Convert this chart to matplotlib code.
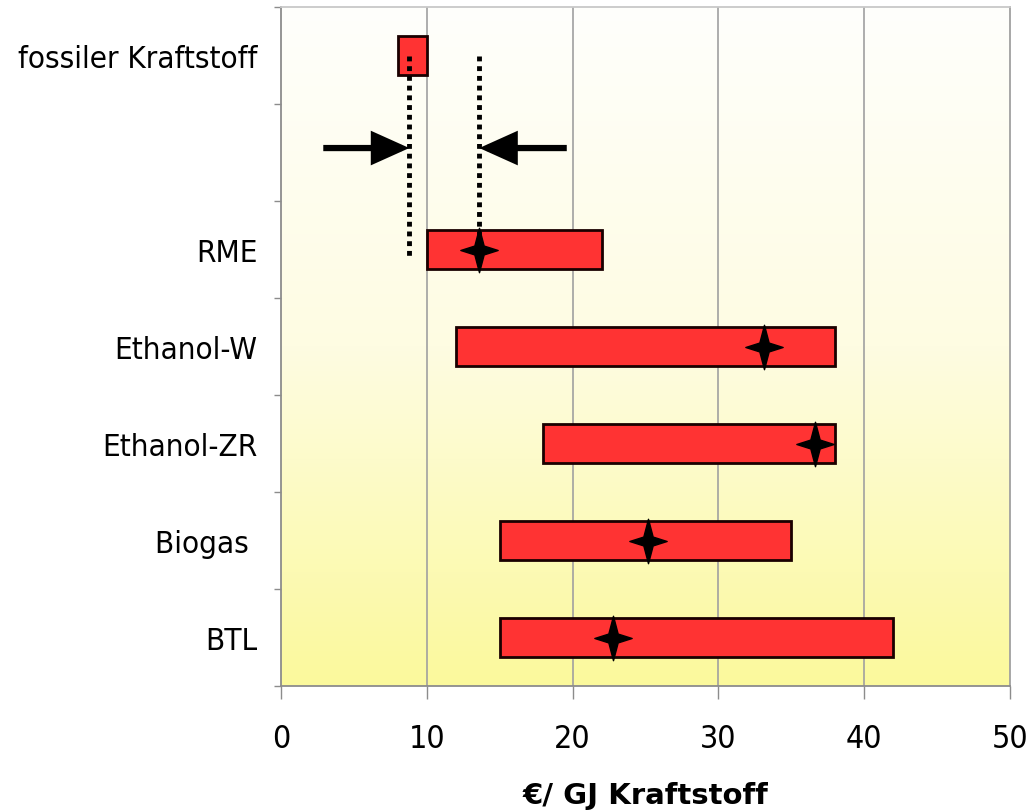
import numpy as np
import matplotlib
matplotlib.use("Agg")
import matplotlib.pyplot as plt
from matplotlib.path import Path
from matplotlib import font_manager as fm
from matplotlib.colors import LinearSegmentedColormap

# ---- data ----
categories = ["fossiler Kraftstoff", "", "RME", "Ethanol-W", "Ethanol-ZR", "Biogas ", "BTL"]
low_cost = [8, np.nan, 10, 12, 18, 15, 15]
high_cost = [10, np.nan, 22, 38, 38, 35, 42]
typical_cost = [np.nan, np.nan, 13.6, 33.1, 36.6, 25.2, 22.8]
x_ticks = [0, 10, 20, 30, 40, 50]
gap_left = 8.8
gap_right = 13.6
x_label = "€/ GJ Kraftstoff"

# ---- font ----
cond = [f for f in fm.fontManager.ttflist if f.name == "DejaVu Sans" and "ondensed" in f.fname]
if cond:
    FONT = dict(family="DejaVu Sans", stretch="condensed")
else:
    FONT = dict(family="DejaVu Sans")

fig = plt.figure(figsize=(10.3, 8.12), dpi=100)
ax = fig.add_axes([281/1030, 1 - 687/812, (1010-281)/1030, (687-8)/812])

# gradient background
grad = np.linspace(0, 1, 256).reshape(-1, 1)
cmap = LinearSegmentedColormap.from_list("bg", ["#FFFFFC", "#FEFCE2", "#FBF99C"])
ax.imshow(grad, aspect="auto", cmap=cmap, extent=[0, 50, 6.5, -0.5], zorder=0)

ax.set_xlim(0, 50)
ax.set_ylim(6.5, -0.5)

for xv in x_ticks[1:-1]:
    ax.axvline(xv, color="#A0A0A0", lw=1.2, zorder=1)

y = np.arange(len(categories))
lo = np.array(low_cost, dtype=float)
hi = np.array(high_cost, dtype=float)
ax.barh(y, hi - lo, left=lo, height=0.41, color="#FF3333", edgecolor="#1a0000",
        linewidth=2.0, zorder=3)

# star marker
star = Path([(0, 1), (0.21, 0.2), (0.84, 0), (0.21, -0.2), (0, -1), (-0.21, -0.2),
             (-0.84, 0), (-0.21, 0.2), (0, 1)],
            [Path.MOVETO] + [Path.LINETO] * 7 + [Path.CLOSEPOLY])
ax.plot(typical_cost, y, linestyle="none", marker=star, markersize=32,
        color="black", zorder=5)

# dotted guide lines
ax.plot([gap_left, gap_left], [0.0, 2.07], color="black", lw=3.5,
        linestyle=(0, (1, 1)), zorder=4)
ax.plot([gap_right, gap_right], [0.0, 1.95], color="black", lw=3.5,
        linestyle=(0, (1, 1)), zorder=4)

# arrows
arrow_style = "-|>,head_length=1.0,head_width=0.45"
for tip, tail in [(gap_left, 2.9), (gap_right, 19.6)]:
    ax.annotate("", xy=(tip, 0.954), xytext=(tail, 0.954),
                arrowprops=dict(arrowstyle=arrow_style, color="black", lw=4.5,
                                mutation_scale=20, shrinkA=0, shrinkB=0,
                                capstyle="butt", joinstyle="miter"), zorder=6)

# axes styling
for s in ax.spines.values():
    s.set_color("#8C8C8C")
    s.set_linewidth(1.3)
ax.spines["top"].set_color("#C8C8C8")
ax.spines["right"].set_color("#A0A0A0")

ax.set_xticks(x_ticks)
ax.set_xticklabels([str(v) for v in x_ticks], fontsize=23, **FONT)
ax.tick_params(axis="x", direction="out", length=9, width=1, color="#8C8C8C", pad=18)

ax.set_yticks(np.arange(-0.5, len(categories), 1.0))
ax.set_yticklabels([])
ax.set_yticks(y, minor=True)
ax.set_yticklabels(categories, minor=True, fontsize=22.5, **FONT)
ax.tick_params(axis="y", which="major", direction="out", length=5, width=1, color="#8C8C8C")
ax.tick_params(axis="y", which="minor", length=0, pad=17)

fig.text(645/1030, 1 - 796/812, x_label, ha="center", va="center",
         fontsize=21, fontweight="bold", family="DejaVu Sans")

fig.savefig("out.png", dpi=100)
